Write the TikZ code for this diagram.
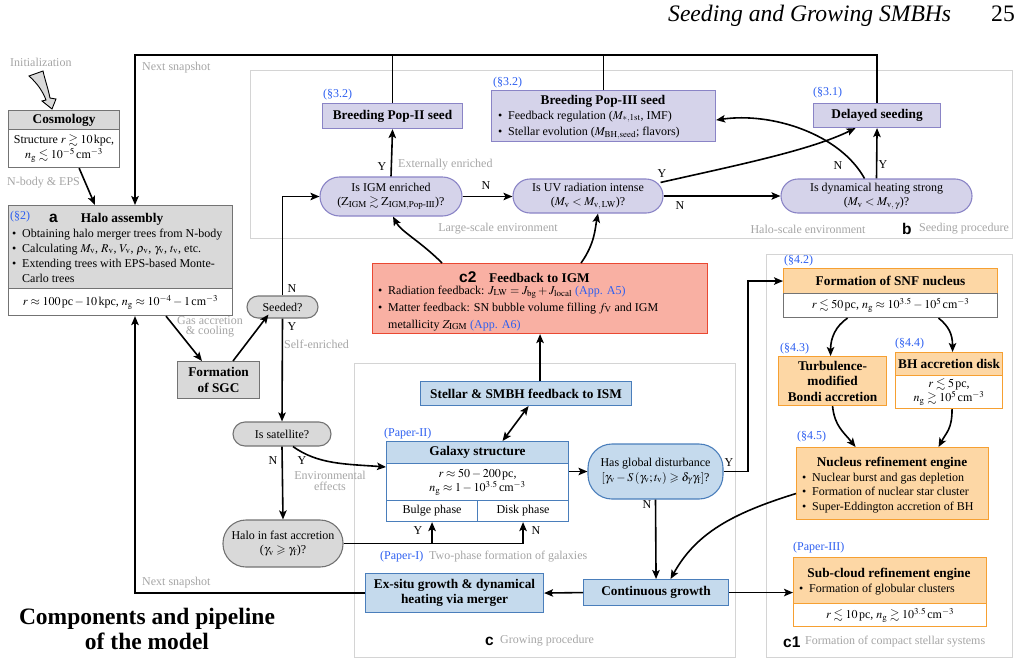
\documentclass[tikz,border=0pt]{standalone}
\usepackage{amsmath}
\usepackage{mathptmx}
\usepackage{amssymb}
\usepackage[no-math]{fontspec}
\setmainfont{Liberation Serif}
\setsansfont{Liberation Sans}
\usetikzlibrary{arrows.meta}
\definecolor{gtext}{RGB}{165,165,165}
\definecolor{btext}{RGB}{45,95,240}
\definecolor{grayfill}{RGB}{217,217,217}
\definecolor{grayline}{RGB}{115,115,115}
\definecolor{lavfill}{RGB}{213,211,234}
\definecolor{lavline}{RGB}{138,132,198}
\definecolor{bluefill}{RGB}{197,218,237}
\definecolor{blueline}{RGB}{74,126,187}
\definecolor{orfill}{RGB}{253,215,165}
\definecolor{orline}{RGB}{246,160,50}
\definecolor{salfill}{RGB}{249,176,163}
\definecolor{salline}{RGB}{234,72,50}
\definecolor{regline}{RGB}{212,212,212}
\newcommand{\myn}{\fontsize{12}{14.5}\selectfont}
\newcommand{\myb}{\fontsize{13.3}{15.5}\selectfont\bfseries}
\newcommand{\mys}{\fontsize{15.5}{18}\selectfont\sffamily\bfseries}
\newcommand{\bul}{\makebox[10pt][l]{\textbullet}}
\newcommand{\bsp}{\hspace*{10pt}}
\newcommand{\bt}[1]{\textcolor{btext}{#1}}
\tikzset{
 bx/.style={draw, line width=1.1pt, inner sep=1pt, anchor=north west, align=center, font=\myn},
 ghd/.style={bx, fill=grayfill, draw=grayline, font=\myb},
 gbd/.style={bx, fill=white, draw=grayline},
 lav/.style={bx, fill=lavfill, draw=lavline, font=\myb},
 blu/.style={bx, fill=bluefill, draw=blueline, font=\myb},
 bwh/.style={bx, fill=white, draw=blueline},
 orh/.style={bx, fill=orfill, draw=orline, font=\myb},
 owh/.style={bx, fill=white, draw=orline},
 sal/.style={bx, fill=salfill, draw=salline},
 region/.style={draw=regline, line width=1.3pt, anchor=north west, inner sep=0pt},
 dec/.style={draw, line width=1.1pt, align=center, font=\myn, inner sep=1pt},
 gl/.style={text=gtext, font=\myn, inner sep=0pt},
 tl/.style={font=\myn, inner sep=0pt},
 bl/.style={text=btext, font=\myn, inner sep=0pt},
 lbl/.style={font=\mys, inner sep=0pt},
 arr/.style={line width=1.6pt, -{Stealth[length=9pt,width=7.5pt,inset=2pt]}},
 darr/.style={line width=1.6pt, {Stealth[length=9pt,width=7.5pt,inset=2pt]}-{Stealth[length=9pt,width=7.5pt,inset=2pt]}},
 ln/.style={line width=1.6pt},
}
\begin{document}
\begin{tikzpicture}[x=1pt,y=-1pt]
\useasboundingbox (0,0) rectangle (1022,664);
% regions
\node[region, minimum width=762, minimum height=168] (regB) at (250,70) {};
\node[region, minimum width=381, minimum height=294] (regC) at (354,363) {};
\node[region, minimum width=246, minimum height=403] (regCa) at (766,254) {};
% header
\node[font=\fontsize{23.6}{27}\selectfont\itshape, anchor=base west, inner sep=0pt] (hdr) at (668,21) {Seeding and Growing SMBHs};
\node[font=\fontsize{23.6}{27}\selectfont, anchor=base east, inner sep=0pt] (pg) at (1015,21) {25};
% title
\node[font=\fontsize{23.5}{24.5}\selectfont\bfseries, align=center, inner sep=0pt] (ttl) at (147,629) {Components and pipeline\\of the model};
% initialization
\node[gl, anchor=west] (init) at (10,62) {Initialization};
\draw[fill=grayfill, line width=0.9pt] (29,76) -- (43,71) .. controls (45,80) and (48,88) .. (50,98) -- (56,99) -- (52,109) -- (42,101) -- (46,100) .. controls (43,92) and (38,84) .. cycle;
% cosmology
\node[ghd, minimum width=111, minimum height=19] (cosT) at (8,110) {Cosmology};
\node[gbd, minimum width=111, minimum height=38, font=\fontsize{12}{15}\selectfont] (cosB) at (8,129) {Structure $r\gtrsim10\,$kpc,\\$n_{\rm g}\lesssim10^{-5}\,$cm$^{-3}$};
\node[gl, anchor=west] (nbody) at (7,183) {N-body \& EPS};
% halo assembly
\node[ghd, minimum width=224, minimum height=83] (haloT) at (8,205) {};
\node[gbd, minimum width=224, minimum height=27] (haloB) at (8,288) {$r\approx100\,$pc$\,-\,10\,$kpc, $n_{\rm g}\approx10^{-4}-1\,$cm$^{-3}$};
\node[bl, anchor=west] (sA) at (10,217) {(\S2)};
\node[lbl, anchor=west] (la) at (49,218) {a};
\node[tl, font=\myb] (haloTt) at (122,219) {Halo assembly};
\node[tl, anchor=base west] (h1) at (12,237) {\bul Obtaining halo merger trees from N-body};
\node[tl, anchor=base west] (h2) at (12,252) {\bul Calculating $M_{\rm v}$, $R_{\rm v}$, $V_{\rm v}$, $\rho_{\rm v}$, $\gamma_{\rm v}$, $t_{\rm v}$, etc.};
\node[tl, anchor=base west] (h3) at (12,267) {\bul Extending trees with EPS-based Monte-};
\node[tl, anchor=base west] (h4) at (12,282) {\bsp Carlo trees};
\draw[arr] ([xshift=-41pt]cosB.south east) -- ([xshift=87pt]haloT.north west);
% top loop
\coordinate (cTL) at (135,55);
\coordinate (cTR) at (877,55);
\node[lav, minimum width=140, minimum height=25] (p2) at (322,103) {Breeding Pop-II seed};
\node[bl, anchor=west] (sB) at (323,95) {(\S3.2)};
\node[lav, minimum width=224, minimum height=51] (p3) at (491,90) {};
\node[bl, anchor=west] (sC) at (493,83) {(\S3.2)};
\node[tl, font=\myb] (p3t) at (603,101) {Breeding Pop-III seed};
\node[tl, anchor=base west] (p3a) at (498,119) {\bul Feedback regulation ($M_{*,\rm 1st}$, IMF)};
\node[tl, anchor=base west] (p3b) at (498,135) {\bul Stellar evolution ($M_{\rm BH,seed}$; flavors)};
\node[lav, minimum width=127, minimum height=24] (dly) at (813,103) {Delayed seeding};
\node[bl, anchor=west] (sD) at (813,93) {(\S3.1)};
\draw[arr] (dly.north) -- (dly.north |- cTR) -- (cTL) -- (haloT.north -| cTL);
\draw[ln] (p2.north) -- (p2.north |- cTL);
\draw[ln] (p3.north) -- (p3.north |- cTL);
\node[gl, anchor=west] (ns1) at (142,68) {Next snapshot};
% seeding decisions
\node[dec, fill=lavfill, draw=lavline, minimum width=142, minimum height=39, rounded corners=19.5pt] (igm) at (391,196.5) {Is IGM enriched\\($\mathrm{Z}_{\rm IGM}\gtrsim\mathrm{Z}_{{\rm IGM,Pop}\textrm{-}{\rm III}}$)?};
\node[dec, fill=lavfill, draw=lavline, minimum width=150, minimum height=34, rounded corners=17pt] (uv) at (588,196) {Is UV radiation intense\\($M_{\rm v}<M_{\rm v,\,LW}$)?};
\node[dec, fill=lavfill, draw=lavline, minimum width=191, minimum height=34, rounded corners=17pt] (dyn) at (876.5,196) {Is dynamical heating strong\\($M_{\rm v}<M_{{\rm v},\,\gamma}$)?};
\draw[arr] (igm.north) -- (p2.south);
\draw[arr] (igm.east) -- (uv.west |- igm.east);
\draw[arr] (uv.east) -- (dyn.west);
\draw[arr] ([shift={(-3pt,-4pt)}]uv.north east) .. controls +(80,-18) and +(-45,22) .. ([xshift=-21.5pt]dly.south);
\draw[arr] ([xshift=-12pt]dyn.north) .. controls +(-25,-45) and +(55,-8) .. ([yshift=-4pt]p3.east);
\draw[arr] (dyn.north) -- (dly.south);
\node[tl] (yA) at (382,167) {Y};
\node[gl, anchor=west] (ext) at (398,165) {Externally enriched};
\node[tl] (nA) at (486,186) {N};
\node[tl] (yB) at (662,174) {Y};
\node[tl] (nB) at (680,206) {N};
\node[tl] (nC) at (838,166) {N};
\node[tl] (yC) at (883,165) {Y};
\node[gl] (lse) at (498,229) {Large-scale environment};
\node[gl] (hse) at (808,229) {Halo-scale environment};
\node[lbl, anchor=west] (lb) at (902,229) {b};
\node[gl, anchor=west] (sprc) at (919,229) {Seeding procedure};
% c2 feedback to IGM
\node[sal, minimum width=335, minimum height=70] (ctwo) at (372,263) {};
\node[lbl, anchor=west] (lc2) at (459,277) {c2};
\node[tl, font=\myb, anchor=west] (c2t) at (489,278) {Feedback to IGM};
\node[tl, anchor=base west] (c2a) at (378,294) {\bul Radiation feedback: $J_{\rm LW}=J_{\rm bg}+J_{\rm local}$ \bt{(App. A5)}};
\node[tl, anchor=base west] (c2b) at (378,311) {\bul Matter feedback: SN bubble volume filling $f_{\rm V}$ and IGM};
\node[tl, anchor=base west] (c2c) at (378,328) {\bsp metallicity $Z_{\rm IGM}$ \bt{(App. A6)}};
\draw[arr] ([xshift=70pt]ctwo.north west) .. controls +(-22,-22) and +(8,15) .. ([xshift=2pt]igm.south);
\draw[arr] ([xshift=-127pt]ctwo.north east) .. controls +(14,-20) and +(-3,15) .. ([xshift=10pt]uv.south);
% seeded, SGC
\node[dec, fill=grayfill, draw=grayline, minimum width=71, minimum height=22, rounded corners=11pt] (seed) at (282.5,307) {Seeded?};
\node[dec, fill=grayfill, draw=grayline, minimum width=98, minimum height=24, rounded corners=12pt] (sat) at (282,434) {Is satellite?};
\node[dec, fill=grayfill, draw=grayline, minimum width=120, minimum height=47, rounded corners=23pt] (fast) at (283,543.5) {Halo in fast accretion\\($\gamma_{\rm v}\geqslant\gamma_{\rm f}$)?};
\node[ghd, minimum width=82, minimum height=37] (sgc) at (177,361) {Formation\\of SGC};
\draw[arr] (seed.north) |- (igm.west);
\draw[arr] (seed.south) -- (sat.north);
\draw[arr] ([xshift=158pt]haloB.south west) -- ([xshift=25pt]sgc.north west);
\draw[arr] ([xshift=56pt]sgc.north west) -- ([shift={(-14pt,4pt)}]seed.south);
\node[tl] (nD) at (292,289) {N};
\node[tl] (yD) at (292,327) {Y};
\node[gl, anchor=west] (selfe) at (284,344) {Self-enriched};
\node[gl, align=center, font=\fontsize{12}{10.5}\selectfont] (gasac) at (210,327) {Gas accretion\\\& cooling};
% growing
\node[blu, minimum width=211, minimum height=24] (stel) at (420,381) {Stellar \& SMBH feedback to ISM};
\draw[arr] (stel.north -| ctwo.south) -- (ctwo.south);
\node[blu, minimum width=182, minimum height=22] (galT) at (386,441) {Galaxy structure};
\node[bwh, minimum width=182, minimum height=37] (galB) at (386,463) {$r\approx50-200\,$pc,\\$n_{\rm g}\approx1-10^{3.5}\,$cm$^{-3}$};
\node[bwh, minimum width=91, minimum height=21] (bulge) at (386,500) {Bulge phase};
\node[bwh, minimum width=91, minimum height=21] (disk) at (477,500) {Disk phase};
\node[bl, anchor=west] (pII) at (384,434) {(Paper-II)};
\draw[darr] ([xshift=2.5pt]stel.south) -- ([xshift=25pt]galT.north);
\draw[arr] ([xshift=11pt]sat.south) .. controls +(25,18) and +(-40,-3) .. ([yshift=-4pt]galB.north west);
\draw[arr] (sat.south) -- (fast.north);
\draw[arr] (fast.east) -| (bulge.south);
\draw[arr] (fast.east) -| (disk.south);
\node[tl] (nE) at (273,461) {N};
\node[tl] (yE) at (302,461) {Y};
\node[gl, align=center, font=\fontsize{12}{10.5}\selectfont] (envef) at (330,481) {Environmental\\effects};
\node[tl] (yF) at (418,531) {Y};
\node[tl] (nF) at (536,531) {N};
\node[dec, fill=bluefill, draw=blueline, minimum width=135, minimum height=55, rounded corners=24pt] (dist) at (655.5,471.5) {Has global disturbance\\$[\gamma_{\rm v}-S\left(\gamma_{\rm v};t_{\rm v}\right)\geqslant\delta_\gamma\gamma_{\rm f}]$?};
\draw[arr] (dist.west -| galB.east) -- (dist.west);
\node[blu, minimum width=145, minimum height=26] (cont) at (583,579) {Continuous growth};
\node[blu, minimum width=178, minimum height=39] (exs) at (365,573) {Ex-situ growth \& dynamical\\heating via merger};
\draw[arr] (dist.south) -- (cont.north);
\node[tl] (nG) at (647,505) {N};
\draw[arr] (cont.west) -- (exs.east);
\node[bl, anchor=west] (pI) at (380,557) {(Paper-I)};
\node[gl, anchor=west] (twoph) at (429,557) {Two-phase formation of galaxies};
\node[lbl, anchor=west] (lc) at (485,641) {c};
\node[gl, anchor=west] (grp) at (500,641) {Growing procedure};
\coordinate (cBL) at (135,593);
\draw[arr] (exs.west) -- (exs.west -| cBL) -- (haloB.south -| cBL);
\node[gl, anchor=west] (ns2) at (142,583) {Next snapshot};
% c1
\node[orh, minimum width=214, minimum height=25] (snfT) at (783,268) {Formation of SNF nucleus};
\node[gbd, minimum width=214, minimum height=24] (snfB) at (783,293) {$r\lesssim50\,$pc, $n_{\rm g}\approx10^{3.5}-10^{5}\,$cm$^{-3}$};
\node[bl, anchor=west] (sE) at (784,261) {(\S4.2)};
\draw[arr] (dist.east) -| ([xshift=-35pt]snfT.west) -- (snfT.west);
\node[tl] (yG) at (729,463) {Y};
\node[orh, minimum width=108, minimum height=49] (turb) at (778,356) {Turbulence-\\modified\\Bondi accretion};
\node[bl, anchor=west] (sF) at (780,349) {(\S4.3)};
\node[orh, minimum width=107, minimum height=23] (bhT) at (895,352) {BH accretion disk};
\node[owh, minimum width=107, minimum height=33, font=\fontsize{12}{12.5}\selectfont] (bhB) at (895,375) {$r\lesssim5\,$pc,\\$n_{\rm g}\gtrsim10^{5}\,$cm$^{-3}$};
\node[bl, anchor=west] (sG) at (895,344) {(\S4.4)};
\node[orh, minimum width=192, minimum height=72] (nuc) at (796,447) {};
\node[bl, anchor=west] (sH) at (797,437) {(\S4.5)};
\node[tl, font=\myb] (nuct) at (892,463) {Nucleus refinement engine};
\node[tl, anchor=base west] (nu1) at (802,481) {\bul Nuclear burst and gas depletion};
\node[tl, anchor=base west] (nu2) at (802,495) {\bul Formation of nuclear star cluster};
\node[tl, anchor=base west] (nu3) at (802,510) {\bul Super-Eddington accretion of BH};
\draw[arr] ([xshift=-43pt]snfB.south) .. controls +(-12,8) and +(0,-18) .. ([xshift=-2pt]turb.north);
\draw[arr] ([xshift=48pt]snfB.south) .. controls +(10,8) and +(0,-18) .. ([xshift=3.5pt]bhT.north);
\draw[arr] (turb.south) .. controls +(2,20) and +(-12,-15) .. ([xshift=-37pt]nuc.north);
\draw[arr] ([xshift=3pt]bhB.south) .. controls +(0,20) and +(8,-15) .. ([xshift=46pt]nuc.north);
\draw[arr] ([yshift=-10pt]nuc.west) .. controls +(-65,20) and +(25,-45) .. ([xshift=14.5pt]cont.north);
\node[orh, minimum width=193, minimum height=46] (subT) at (793,557) {};
\node[owh, minimum width=193, minimum height=23] (subB) at (793,603) {$r\lesssim10\,$pc, $n_{\rm g}\gtrsim10^{3.5}\,$cm$^{-3}$};
\node[bl, anchor=west] (pIII) at (793,548) {(Paper-III)};
\node[tl, font=\myb] (subt) at (889,574) {Sub-cloud refinement engine};
\node[tl, anchor=base west] (su1) at (799,592) {\bul Formation of globular clusters};
\draw[arr] (cont.east) -- (subT.west |- cont.east);
\node[lbl, anchor=west] (lcone) at (783,642) {c1};
\node[gl, anchor=west] (fcss) at (805,642) {Formation of compact stellar systems};
\end{tikzpicture}
\end{document}
